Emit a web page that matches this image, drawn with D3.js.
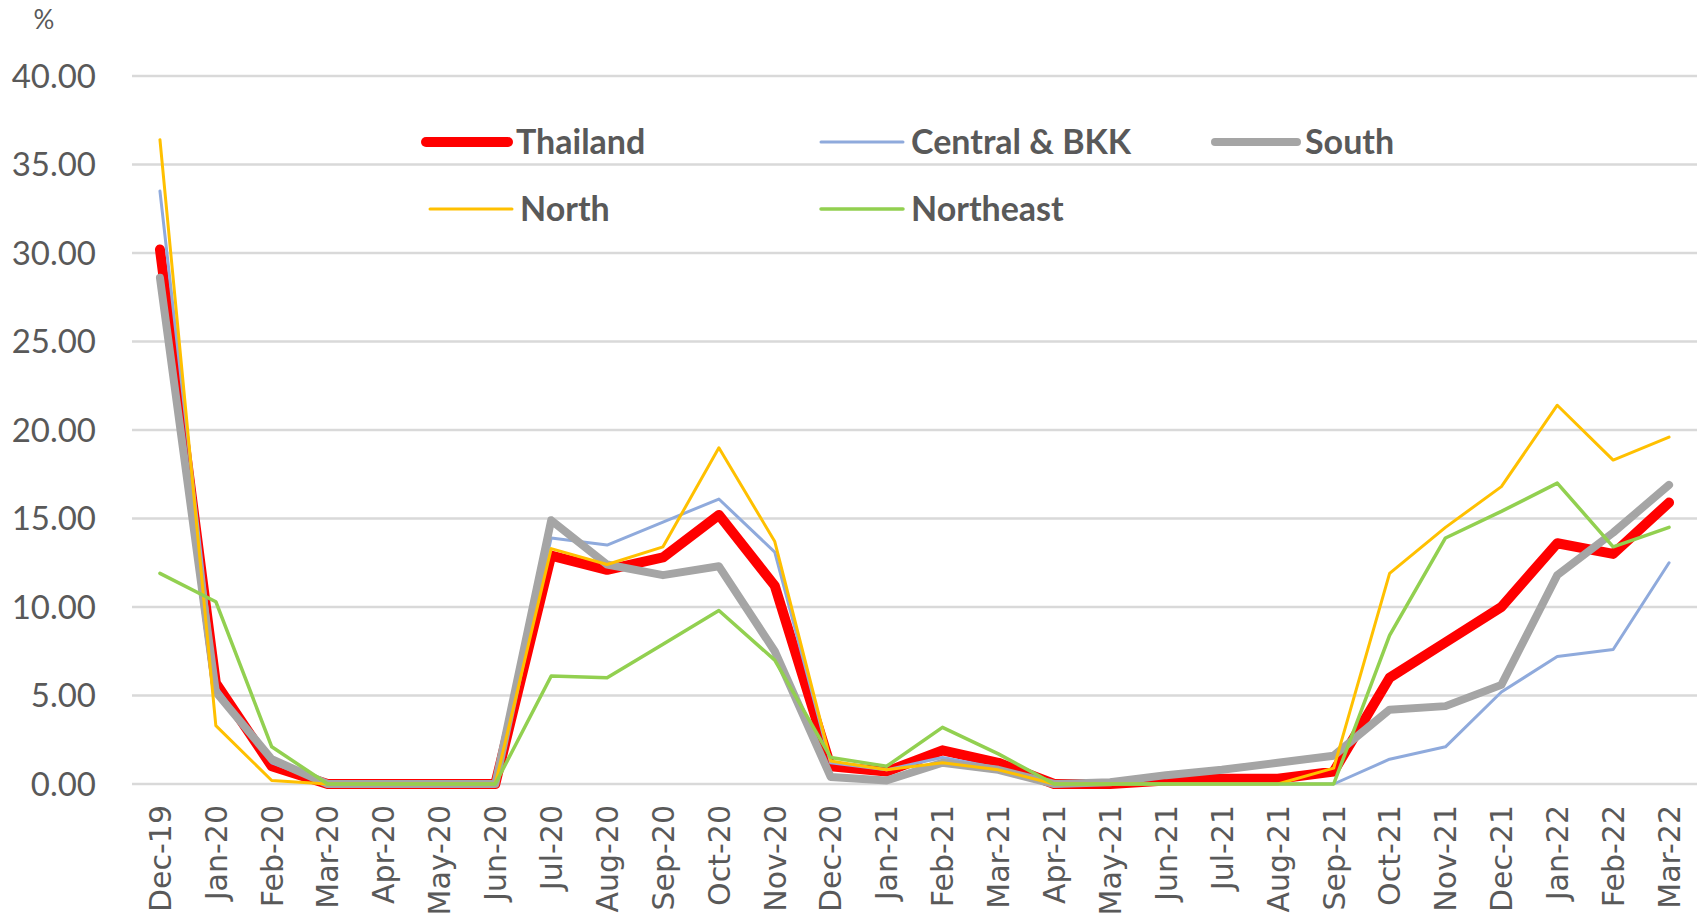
<!DOCTYPE html>
<html lang="en">
<head>
    <meta charset="UTF-8">
    <title>Thailand regions</title>
    <script src="https://d3js.org/d3.v7.min.js"></script>
    <style>
        body {
            margin: 0;
            background: #fff;
        }
        .ylab {
            font-family: Lato, sans-serif;
            font-size: 33px;
            fill: #595959;
        }
        .xlab {
            font-family: "DejaVu Sans", sans-serif;
            font-size: 30px;
            fill: #595959;
        }
        .legend-text {
            font-family: Lato, sans-serif;
            font-weight: bold;
            font-size: 34px;
            fill: #595959;
        }
    </style>
</head>
<body>
    <div id="chart"></div>
    <script>
        const width = 1701;
        const height = 923;

        // months on the x axis
        const months = ["Dec-19", "Jan-20", "Feb-20", "Mar-20", "Apr-20", "May-20", "Jun-20",
            "Jul-20", "Aug-20", "Sep-20", "Oct-20", "Nov-20", "Dec-20",
            "Jan-21", "Feb-21", "Mar-21", "Apr-21", "May-21", "Jun-21",
            "Jul-21", "Aug-21", "Sep-21", "Oct-21", "Nov-21", "Dec-21",
            "Jan-22", "Feb-22", "Mar-22"];

        const yTicks = [0, 5, 10, 15, 20, 25, 30, 35, 40];

        const thailand = [30.2, 5.7, 1.0, 0, 0, 0, 0, 12.9, 12.1, 12.8, 15.2, 11.2, 1.0,
            0.7, 1.9, 1.2, 0, 0, 0.2, 0.3, 0.3, 0.7, 6.0, 8.0, 10.0, 13.6, 13.0, 15.9];
        const centralBkk = [33.5, 5.5, 1.2, 0, 0, 0, 0, 13.9, 13.5, 14.8, 16.1, 13.1, 1.2,
            0.8, 1.5, 0.9, 0, 0, 0, 0, 0, 0, 1.4, 2.1, 5.2, 7.2, 7.6, 12.5];
        const south = [28.6, 5.2, 1.4, 0, 0, 0, 0, 14.9, 12.4, 11.8, 12.3, 7.5, 0.4,
            0.2, 1.2, 0.8, 0, 0.1, 0.5, 0.8, 1.2, 1.6, 4.2, 4.4, 5.6, 11.8, 14.2, 16.9];
        const north = [36.4, 3.3, 0.2, 0, 0, 0, 0, 13.3, 12.4, 13.4, 19.0, 13.7, 1.3,
            0.8, 1.2, 0.8, 0, 0, 0, 0, 0, 0.9, 11.9, 14.5, 16.8, 21.4, 18.3, 19.6];
        const northeast = [11.9, 10.3, 2.1, 0, 0, 0, 0, 6.1, 6.0, 7.9, 9.8, 7.0, 1.5,
            1.0, 3.2, 1.7, 0, 0, 0, 0, 0, 0, 8.4, 13.9, 15.4, 17.0, 13.4, 14.5];

        const series = [
            { name: "Thailand", values: thailand, color: "#FF0000", width: 10 },
            { name: "Central & BKK", values: centralBkk, color: "#8FAADC", width: 3 },
            { name: "South", values: south, color: "#A5A5A5", width: 8 },
            { name: "North", values: north, color: "#FFC000", width: 3 },
            { name: "Northeast", values: northeast, color: "#92D050", width: 3.5 }
        ];

        const plot = { left: 132, right: 1697, top: 76, bottom: 784 };

        const svg = d3.select("#chart")
            .append("svg")
            .attr("width", width)
            .attr("height", height);

        const x = d3.scalePoint()
            .domain(months)
            .range([plot.left, plot.right])
            .padding(0.5);

        const y = d3.scaleLinear()
            .domain([0, 40])
            .range([plot.bottom, plot.top]);

        // gridlines
        svg.append("g")
            .selectAll("line")
            .data(yTicks)
            .enter()
            .append("line")
            .attr("x1", plot.left)
            .attr("x2", plot.right)
            .attr("y1", d => y(d))
            .attr("y2", d => y(d))
            .attr("stroke", "#D9D9D9")
            .attr("stroke-width", 2.5);

        // y labels
        svg.append("g")
            .selectAll("text")
            .data(yTicks)
            .enter()
            .append("text")
            .attr("class", "ylab")
            .attr("x", 96)
            .attr("y", d => y(d))
            .attr("dy", "0.36em")
            .attr("text-anchor", "end")
            .text(d => d.toFixed(2));

        svg.append("text")
            .attr("class", "ylab")
            .attr("x", 44)
            .attr("y", 29)
            .attr("text-anchor", "middle")
            .style("font-size", "26px")
            .text("%");

        // x labels, rotated
        svg.append("g")
            .selectAll("text")
            .data(months)
            .enter()
            .append("text")
            .attr("class", "xlab")
            .attr("transform", d => `translate(${x(d)}, 805) rotate(-90)`)
            .attr("dy", "0.36em")
            .attr("text-anchor", "end")
            .text(d => d);

        const line = d3.line()
            .x((d, i) => x(months[i]))
            .y(d => y(d));

        svg.append("g")
            .selectAll("path")
            .data(series)
            .enter()
            .append("path")
            .attr("d", d => line(d.values))
            .attr("fill", "none")
            .attr("stroke", d => d.color)
            .attr("stroke-width", d => d.width)
            .attr("stroke-linejoin", "round")
            .attr("stroke-linecap", "round");

        // legend, two rows
        const legendPos = [
            { x: 426, y: 142 }, { x: 821, y: 142 }, { x: 1215, y: 142 },
            { x: 430, y: 209 }, { x: 821, y: 209 }
        ];

        const legend = svg.append("g")
            .selectAll("g")
            .data(series)
            .enter()
            .append("g")
            .attr("transform", (d, i) => `translate(${legendPos[i].x}, ${legendPos[i].y})`);

        legend.append("line")
            .attr("x1", 0)
            .attr("x2", 82)
            .attr("stroke", d => d.color)
            .attr("stroke-width", d => d.width)
            .attr("stroke-linecap", "round");

        legend.append("text")
            .attr("class", "legend-text")
            .attr("x", 90)
            .attr("dy", "0.36em")
            .text(d => d.name);
    </script>
</body>
</html>
